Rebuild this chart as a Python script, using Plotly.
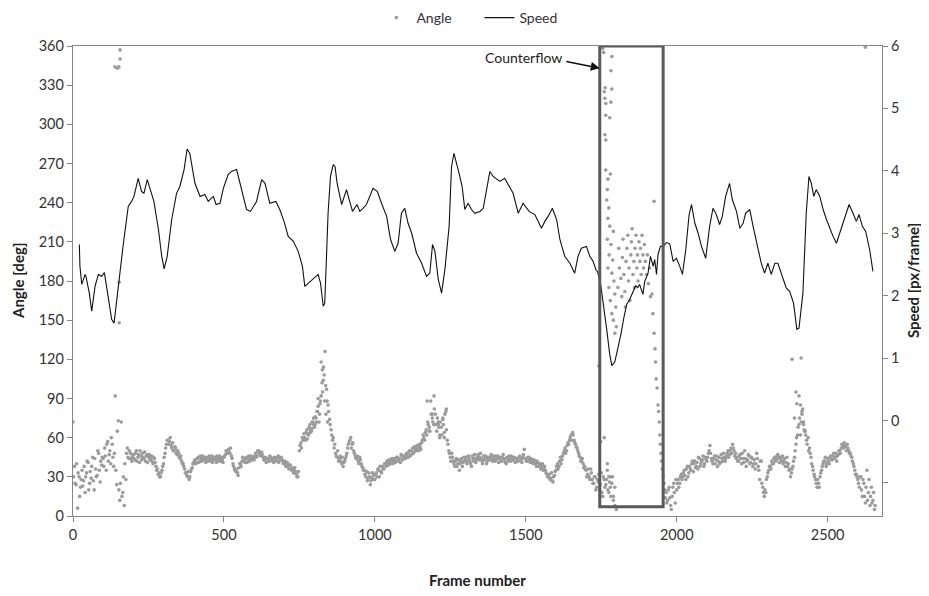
import plotly.graph_objects as go

# ---------------- data ----------------
# Speed [px/frame]
speed_frame = [21, 23, 29, 40, 43, 54, 62, 73, 84, 95, 104, 111, 128, 136, 145, 156, 167, 183, 194, 202,
               216, 227, 235, 246, 257, 268, 283, 294, 302, 312, 327, 343, 354, 368, 378, 387, 404, 421, 437, 448,
               465, 474, 487, 498, 514, 525, 542, 559, 575, 588, 608, 625, 636, 652, 672, 685, 699, 713, 730, 746,
               760, 768, 779, 796, 812, 820, 829, 834, 845, 853, 862, 868, 875, 890, 897, 906, 915, 926, 941, 950,
               961, 972, 994, 1008, 1022, 1039, 1052, 1066, 1077, 1088, 1099, 1110, 1122, 1138, 1155, 1171, 1182, 1191, 1199, 1210,
               1221, 1232, 1246, 1254, 1262, 1271, 1279, 1289, 1298, 1309, 1320, 1331, 1348, 1359, 1368, 1381, 1392, 1414, 1430, 1445,
               1458, 1475, 1491, 1511, 1530, 1552, 1563, 1574, 1588, 1602, 1613, 1629, 1646, 1662, 1673, 1684, 1701, 1712, 1723, 1732,
               1738, 1748, 1758, 1768, 1778, 1785, 1795, 1805, 1815, 1825, 1834, 1844, 1854, 1864, 1871, 1877, 1888, 1894, 1905, 1913,
               1922, 1927, 1933, 1938, 1946, 1955, 1966, 1977, 1988, 1999, 2010, 2019, 2030, 2041, 2049, 2060, 2071, 2082, 2096, 2109,
               2120, 2131, 2142, 2151, 2162, 2175, 2184, 2198, 2209, 2220, 2228, 2242, 2253, 2266, 2280, 2291, 2302, 2313, 2325, 2335,
               2350, 2363, 2374, 2387, 2398, 2405, 2418, 2429, 2438, 2446, 2454, 2462, 2474, 2485, 2496, 2507, 2518, 2529, 2540, 2553,
               2571, 2584, 2595, 2604, 2615, 2626, 2639, 2650]
speed_value = [2.82, 2.47, 2.18, 2.34, 2.31, 2.04, 1.75, 2.15, 2.34, 2.31, 2.37, 2.15, 1.62, 1.56, 1.94, 2.47, 2.84, 3.43, 3.51, 3.59,
               3.88, 3.67, 3.64, 3.86, 3.70, 3.51, 3.06, 2.63, 2.43, 2.63, 3.22, 3.64, 3.75, 4.02, 4.35, 4.28, 3.80, 3.59, 3.62, 3.51,
               3.59, 3.46, 3.48, 3.72, 3.94, 3.99, 4.02, 3.70, 3.38, 3.35, 3.51, 3.86, 3.80, 3.48, 3.51, 3.38, 3.19, 2.95, 2.87, 2.71,
               2.47, 2.15, 2.20, 2.28, 2.34, 2.20, 1.83, 1.88, 3.32, 3.91, 4.10, 4.07, 3.80, 3.46, 3.56, 3.70, 3.54, 3.35, 3.46, 3.35,
               3.40, 3.46, 3.72, 3.67, 3.48, 3.27, 2.90, 2.71, 2.84, 3.32, 3.40, 3.16, 3.00, 2.68, 2.52, 2.31, 2.36, 2.82, 2.71, 2.26,
               2.04, 2.42, 3.11, 4.07, 4.28, 4.12, 3.96, 3.75, 3.38, 3.48, 3.38, 3.32, 3.35, 3.40, 3.64, 3.99, 3.91, 3.83, 3.88, 3.75,
               3.64, 3.32, 3.48, 3.35, 3.30, 3.08, 3.19, 3.27, 3.40, 3.22, 2.90, 2.63, 2.52, 2.36, 2.63, 2.76, 2.79, 2.63, 2.55, 2.42,
               2.38, 2.18, 1.86, 1.46, 1.06, 0.88, 0.94, 1.14, 1.38, 1.65, 1.86, 1.94, 2.06, 2.16, 2.13, 2.18, 2.02, 2.23, 2.36, 2.63,
               2.47, 2.58, 2.34, 2.66, 2.79, 2.79, 2.85, 2.83, 2.55, 2.60, 2.47, 2.34, 2.74, 3.30, 3.46, 3.16, 3.00, 2.79, 2.60, 3.11,
               3.40, 3.30, 3.14, 3.27, 3.59, 3.80, 3.54, 3.35, 3.08, 3.16, 3.32, 3.38, 3.11, 2.84, 2.52, 2.36, 2.52, 2.34, 2.52, 2.52,
               2.31, 2.12, 2.07, 1.88, 1.46, 1.48, 2.04, 3.32, 3.91, 3.80, 3.59, 3.70, 3.59, 3.38, 3.22, 3.08, 2.95, 2.84, 3.00, 3.22,
               3.46, 3.32, 3.19, 3.30, 3.11, 3.03, 2.74, 2.39]

# Angle [deg], main band sampled every 5 frames (None = no point)
band_step = 5
angle_band_a = [
    72, 38, 24, 6, 30, 22, 35, 27, 18, 33, 41, 25, 29, 45, 20, 36, 31, 48, 26, 39,
    44, 52, 35, 57, 47, 40, 55, 38, 92, 24, 73, 12, 72, 18, 8, 28, 52, 44, 48, 42,
    47, 43, 50, 45, 41, 46, 48, 44, 42, 47, 45, 43, 46, 40, 44, 38, 36, 33, 30, 35,
    40, 48, 55, 58, 57, 54, 56, 50, 52, 47, 48, 44, 42, 40, 36, 33, 30, 28, 34, 37,
    40, 43, 41, 45, 42, 44, 46, 43, 41, 45, 44, 42, 46, 43, 45, 41, 44, 46, 42, 43,
    45, 47, 49, 51, 48, 46, 40, 36, 34, 33, 37, 40, 42, 44, 41, 45, 43, 42, 46, 44,
    43, 48, 46, 50, 47, 49, 45, 43, 41, 44, 42, 45, 43, 41, 44, 42, 46, 43, 45, 42,
    40, 38, 41, 36, 39, 35, 33, 37, 32, 30, 50, 56, 60, 63, 58, 66, 62, 70, 65, 72,
    68, 75, 80, 72, 88, 102, 114, 126, 97, 85, 74, 66, 58, 52, 48, 45, 42, 46, 40, 38,
    42, 46, 52, 57, 60, 55, 50, 46, 44, 42, 45, 40, 37, 35, 30, 27, 33, 24, 29, 31,
    28, 33, 36, 30, 34, 38, 36, 40, 42, 39, 41, 43, 40, 44, 42, 45, 43, 41, 46, 44,
    46, 48, 45, 50, 47, 52, 49, 51, 54, 50, 53, 56, 62, 58, 66, 72, 68, 88, 75, 70,
    78, 65, 72, 60, 68, 74, 64, 80, 58, 50, 45, 48, 42, 38, 44, 40, 35, 42, 38, 45,
    43, 40, 46, 42, 38, 44, 47, 41, 45, 43, 48, 42, 46, 44, 40, 45, 43, 47, 42, 44,
    46, 44, 41, 45, 42, 47, 43, 40, 44, 46, 42, 45, 43, 41, 44, 42, 46, 43, 45, 51,
    44, 42, 45, 41, 43, 40, 42, 38, 41, 39, 36, 40, 37, 35, 32, 30, 28, 33, 26, 31,
    35, 40, 38, 45, 43, 48, 52, 50, 56, 58, 62, 64, 58, 55, 52, 48, 45, 42, 40, 38,
    35, 32, 30, 36, 28, 25, 30, 22, 26, 20, 33, 15, 28, 24, 35, 18, 30, 25, 12, 22,
    None, None, None, None, None, None, None, None, None, None, None, None, None, None, None, None, None, None, None, None,
    None, None, None, None, None, None, None, None, None, None, None, None, None, 18, 12, 22, 8, 15, 25, 10,
    20, 28, 25, 32, 30, 35, 28, 38, 33, 36, 40, 34, 42, 38, 36, 44, 40, 43, 38, 45,
    42, 48, 54, 44, 40, 46, 43, 38, 45, 41, 44, 48, 42, 46, 50, 47, 52, 55, 50, 48,
    45, 42, 47, 40, 44, 50, 38, 43, 46, 41, 44, 40, 36, 48, 38, 28, 42, 22, 15, 18,
    30, 35, 38, 42, 40, 45, 43, 47, 41, 44, 46, 42, 38, 45, 40, 36, 33, 38, 45, 55,
    62, 70, 85, 78, 72, 65, 58, 60, 52, 45, 38, 32, 28, 22, 25, 30, 35, 40, 42, 38,
    44, 40, 46, 43, 48, 45, 42, 47, 50, 52, 54, 56, 53, 55, 50, 48, 45, 40, 35, 32,
    28, 22, 30, 15, 25, 10, 35, 18, 8, 22, 12, 5,
]
# second pass of the band, offset by 2 frames
angle_band_b = [
    30, 25, 40, 33, 15, 28, 23, 38, 30, 42, 20, 34, 38, 27, 44, 30, 50, 35, 42, 45,
    38, 46, 55, 42, 50, 60, 45, 48, 35, 65, 20, 25, 15, 30, 40, 48, 45, 50, 44, 46,
    44, 48, 42, 47, 50, 43, 45, 49, 46, 41, 47, 44, 42, 45, 41, 35, 32, 30, 33, 38,
    45, 52, 58, 55, 60, 52, 50, 53, 48, 50, 45, 46, 40, 38, 33, 31, 34, 30, 36, 40,
    42, 40, 44, 41, 46, 42, 44, 45, 43, 42, 46, 44, 41, 45, 43, 46, 42, 44, 45, 41,
    46, 50, 48, 49, 52, 44, 38, 35, 36, 31, 40, 38, 45, 42, 44, 41, 46, 44, 43, 45,
    46, 45, 50, 48, 46, 47, 43, 45, 44, 42, 46, 44, 42, 45, 43, 45, 41, 44, 43, 40,
    42, 40, 38, 39, 36, 37, 35, 34, 30, 34, 54, 52, 58, 60, 64, 63, 68, 66, 72, 75,
    70, 72, 84, 78, 92, 95, 108, 100, 88, 80, 70, 62, 60, 55, 46, 50, 44, 42, 45, 41,
    44, 48, 55, 58, 52, 56, 48, 44, 46, 40, 43, 38, 35, 32, 34, 29, 30, 27, 33, 28,
    32, 30, 35, 38, 33, 36, 40, 38, 41, 43, 40, 44, 42, 41, 45, 42, 44, 47, 43, 46,
    44, 47, 49, 46, 50, 48, 53, 50, 52, 55, 51, 58, 60, 64, 62, 70, 65, 78, 72, 82,
    70, 75, 68, 72, 62, 70, 78, 66, 55, 48, 42, 45, 40, 42, 38, 43, 40, 44, 41, 42,
    45, 42, 44, 40, 46, 42, 44, 43, 47, 45, 44, 40, 43, 46, 42, 44, 45, 44, 46, 42,
    43, 46, 44, 42, 45, 44, 41, 45, 42, 44, 46, 43, 45, 44, 42, 45, 44, 41, 47, 44,
    42, 45, 43, 44, 41, 43, 40, 42, 38, 40, 38, 35, 38, 33, 30, 32, 29, 27, 30, 34,
    38, 36, 42, 40, 46, 50, 48, 54, 55, 60, 58, 62, 56, 53, 50, 46, 42, 44, 37, 36,
    30, 36, 28, 33, 25, 30, 20, 28, 32, 24, 18, 30, 22, 28, 20, 26, 15, 30, None, None,
    None, None, None, None, None, None, None, None, None, None, None, None, None, None, None, None, None, None, None, None,
    None, None, None, None, None, None, None, None, None, None, None, None, None, 10, 20, 14, 5, 22, 18, 28,
    25, 22, 30, 28, 33, 31, 36, 30, 38, 35, 42, 40, 37, 41, 45, 38, 42, 46, 40, 43,
    45, 50, 48, 42, 44, 40, 46, 42, 40, 47, 42, 45, 44, 48, 45, 50, 48, 52, 46, 44,
    42, 46, 44, 48, 41, 44, 42, 47, 40, 45, 38, 43, 40, 44, 35, 42, 25, 18, 20, 28,
    33, 38, 36, 40, 44, 42, 46, 44, 45, 42, 40, 44, 41, 38, 35, 30, 36, 42, 50, 60,
    68, 75, 72, 82, 66, 62, 55, 50, 48, 40, 35, 30, 25, 28, 22, 33, 38, 42, 45, 40,
    42, 45, 43, 46, 44, 48, 46, 50, 48, 55, 52, 54, 50, 52, 48, 46, 42, 38, 32, 30,
    25, 30, 20, 28, 15, 22, 12, 28, 15, 10, 18, 8,
]
angle_band_a_frame = [band_step * i for i in range(len(angle_band_a))]
angle_band_b_frame = [2 + band_step * i for i in range(len(angle_band_b))]

# Extra angle points (outliers, counterflow section, dense peaks)
angle_extra_frame = [139, 147, 152, 156, 156, 153, 153,
                     822, 826, 829, 812, 818, 808, 803, 797, 792, 786, 780, 776, 834, 838, 843,
                     1173, 1196, 1237, 1190, 1210, 1225, 1180, 1215, 1230,
                     1742, 1748, 1760, 1770, 1775, 1780, 1790, 1795, 1800,
                     1755, 1758, 1785, 1782, 1763, 1760, 1785, 1762, 1765, 1782, 1765, 1778, 1762, 1765, 1765, 1780,
                     1772, 1770, 1768, 1775, 1772, 1778, 1790, 1770, 1782, 1776, 1788, 1772, 1785, 1792, 1775, 1795,
                     1780, 1798, 1785, 1790, 1800, 1795, 1805, 1810, 1808, 1815, 1818, 1820, 1822, 1825, 1828, 1830,
                     1832, 1835, 1838, 1840, 1842, 1845, 1848, 1850, 1852, 1855, 1858, 1860, 1862, 1865, 1868, 1870,
                     1872, 1875, 1878, 1880, 1882, 1885, 1888, 1890, 1893, 1896, 1900, 1903, 1906, 1910, 1913, 1925,
                     1918, 1921, 1925, 1928, 1930, 1932, 1935, 1938, 1940, 1942, 1944, 1946, 1948, 1950, 1952, 1955,
                     1958, 1960, 1962,
                     2382, 2412, 2395, 2405, 2398, 2415, 2390, 2420, 2425, 2410,
                     2625]
angle_extra = [344, 343, 344, 350, 357, 179, 148,
               118, 112, 104, 90, 86, 80, 76, 70, 67, 64, 62, 59, 88, 78, 72,
               88, 92, 82, 78, 70, 75, 65, 62, 60,
               115, 57, 60, 40, 30, 22, 15, 8, 5,
               358, 355, 352, 341, 328, 325, 327, 320, 316, 317, 307, 305, 292, 288, 265, 262,
               258, 250, 242, 236, 228, 222, 218, 212, 208, 200, 196, 190, 186, 180, 175, 170,
               165, 160, 155, 150, 145, 140, 175, 190, 205, 182, 168, 198, 212, 185, 172, 160,
               195, 205, 215, 180, 190, 165, 200, 210, 220, 185, 195, 175, 205, 215, 190, 200,
               180, 210, 195, 205, 185, 215, 200, 190, 208, 195, 185, 200, 178, 190, 168, 241,
               170, 155, 140, 128, 118, 105, 98, 85, 80, 72, 62, 55, 48, 42, 36, 30,
               25, 20, 14,
               120, 121, 95, 92, 86, 80, 75, 70, 65, 62,
               359]

angle_frame = angle_band_a_frame + angle_band_b_frame + angle_extra_frame
angle_value = angle_band_a + angle_band_b + angle_extra

# axis ticks
x_ticks = [0, 500, 1000, 1500, 2000, 2500]
angle_ticks = list(range(0, 361, 30))
speed_ticks = [-1, 0, 1, 2, 3, 4, 5, 6]
speed_ticklabels = ["", "0", "1", "2", "3", "4", "5", "6"]

# counterflow window
cf_frame = [1745, 1955]
cf_angle = [7, 360]

FONT = "Lato, 'Open Sans', sans-serif"
AXIS_COL = "#868686"
TITLE_FONT = dict(family=FONT, size=15, color="#222222")

fig = go.Figure()
fig.add_trace(go.Scatter(
    x=angle_frame, y=angle_value, mode="markers", name="Angle",
    marker=dict(color="#9b9b9b", size=3.6, symbol="circle"),
    yaxis="y", hoverinfo="skip"))
fig.add_trace(go.Scatter(
    x=speed_frame, y=speed_value, mode="lines", name="Speed",
    line=dict(color="#111111", width=1.1),
    yaxis="y2", hoverinfo="skip"))

fig.add_shape(type="rect", xref="x", yref="y",
              x0=cf_frame[0], x1=cf_frame[1], y0=cf_angle[0], y1=cf_angle[1],
              line=dict(color="#5a5a5a", width=3), fillcolor="rgba(0,0,0,0)")

fig.add_annotation(x=cf_frame[0], y=343, xref="x", yref="y", text="",
                   showarrow=True, ax=-35, ay=-7, arrowhead=2, arrowsize=1.2,
                   arrowwidth=1.5, arrowcolor="#111111")
fig.add_annotation(x=1628, y=351, xref="x", yref="y", text="Counterflow",
                   showarrow=False, xanchor="right", yanchor="middle",
                   font=dict(size=14, color="#222222", family=FONT))

# axis titles as annotations for exact placement
fig.add_annotation(x=0, y=0.5, xref="paper", yref="paper", xshift=-55, text="<b>Angle [deg]</b>",
                   textangle=-90, showarrow=False, font=TITLE_FONT, xanchor="center", yanchor="middle")
fig.add_annotation(x=1, y=0.5, xref="paper", yref="paper", xshift=31, text="<b>Speed [px/frame]</b>",
                   textangle=-90, showarrow=False, font=TITLE_FONT, xanchor="center", yanchor="middle")
fig.add_annotation(x=0.5, y=0, xref="paper", yref="paper", yshift=-64, text="<b>Frame number</b>",
                   showarrow=False, font=TITLE_FONT, xanchor="center", yanchor="middle")

# the page body adds an 8px offset, so the figure is 921x588 and margins are shifted by 8px
fig.update_layout(
    width=921, height=588,
    margin=dict(l=65, r=47, t=38, b=80, autoexpand=False),
    paper_bgcolor="white", plot_bgcolor="white",
    font=dict(family=FONT, size=14.5, color="#333333"),
    showlegend=True,
    legend=dict(orientation="h", xref="container", yref="container",
                x=0.4, xanchor="left", y=0.983, yanchor="middle",
                font=dict(size=14, color="#333333"), entrywidth=58, entrywidthmode="pixels",
                itemwidth=30, bgcolor="rgba(0,0,0,0)"),
    xaxis=dict(range=[0, 2680], tickvals=x_ticks, ticks="outside", ticklen=5,
               tickcolor=AXIS_COL, showline=True, linecolor=AXIS_COL, linewidth=1.3,
               mirror=True, showgrid=False, zeroline=False, automargin=False),
    yaxis=dict(range=[0, 360], tickvals=angle_ticks, ticks="outside", ticklen=5,
               tickcolor=AXIS_COL, showline=True, linecolor=AXIS_COL, linewidth=1.3,
               showgrid=False, zeroline=False, automargin=False),
    yaxis2=dict(range=[-1.53, 6], tickvals=speed_ticks, ticktext=speed_ticklabels,
                overlaying="y", side="right", ticks="outside", ticklen=5,
                tickcolor=AXIS_COL, showline=True, linecolor=AXIS_COL, linewidth=1.3,
                showgrid=False, zeroline=False, automargin=False),
)

fig.write_html("out.html")
